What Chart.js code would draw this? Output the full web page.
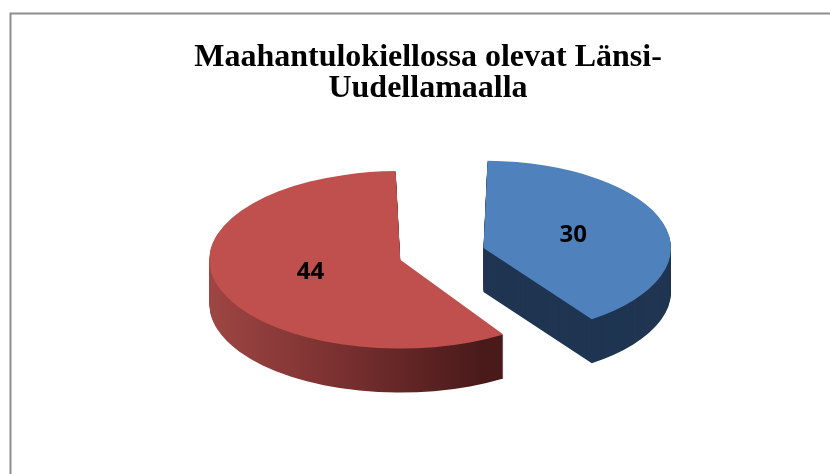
<!DOCTYPE html>
<html>
<head>
<meta charset="utf-8">
<script src="https://cdn.jsdelivr.net/npm/chart.js@4.4.1/dist/chart.umd.min.js"></script>
<style>
  html, body { margin: 0; padding: 0; background: #fff; }
  #wrap { width: 830px; height: 474px; }
</style>
</head>
<body>
<div id="wrap"><canvas id="pieChart" width="830" height="474"></canvas></div>
<script>
// data
const titleLines = ['Maahantulokiellossa olevat Länsi-', 'Uudellamaalla'];
const categories = ['A', 'B'];
const values = [30, 44];

// look
const topColors = ['#4F81BD', '#C0504D'];
const explodeBy = [232, 116];   // chart.js moves a slice by offset/4
const TILT = 0.465;             // vertical squash of the pie disc
const DEPTH = 44;               // thickness in px
const LABEL_POS = 0.58;

function tilt(ctx, arc) {
    ctx.translate(arc.x, arc.y);
    ctx.scale(1, TILT);
    ctx.translate(-arc.x, -arc.y);
}

function sideFill(ctx, arc, i) {
    if (i === 0) return '#1F3552';
    const g = ctx.createLinearGradient(arc.x - 215, 0, arc.x + 80, 0);
    g.addColorStop(0, '#A44A47');
    g.addColorStop(0.5, '#7C3131');
    g.addColorStop(1, '#4A1A1A');
    return g;
}

const frame = {
    id: 'frame',
    beforeDraw(chart) {
        const ctx = chart.ctx;
        ctx.save();
        ctx.strokeStyle = '#8E8E8E';
        ctx.lineWidth = 2;
        ctx.beginPath();
        ctx.moveTo(10.5, 474);
        ctx.lineTo(10.5, 13.5);
        ctx.lineTo(830, 13.5);
        ctx.stroke();
        ctx.restore();
    }
};

// fake 3D: squash the disc and stack shifted copies underneath for the side wall
const pie3d = {
    id: 'pie3d',
    beforeDatasetsDraw(chart) {
        const ctx = chart.ctx;
        const arcs = chart.getDatasetMeta(0).data;
        ctx.save();
        tilt(ctx, arcs[0]);
        arcs.forEach((arc, i) => {
            const fake = Object.create(arc);
            fake.options = Object.assign({}, arc.options, { backgroundColor: sideFill(ctx, arc, i), borderWidth: 0 });
            for (let d = DEPTH; d > 0; d--) {
                ctx.save();
                ctx.translate(0, d / TILT);
                fake.draw(ctx);
                ctx.restore();
            }
        });
    },
    afterDatasetsDraw(chart) {
        const ctx = chart.ctx;
        ctx.restore();
        const arcs = chart.getDatasetMeta(0).data;
        ctx.save();
        ctx.fillStyle = '#000';
        ctx.font = 'bold 24px "Open Sans"';
        ctx.textAlign = 'center';
        ctx.textBaseline = 'middle';
        arcs.forEach((arc, i) => {
            const mid = (arc.startAngle + arc.endAngle) / 2;
            const r = explodeBy[i] / 4 + arc.outerRadius * LABEL_POS;
            const x = arc.x + Math.cos(mid) * r;
            const y = arc.y + Math.sin(mid) * r * TILT;
            ctx.fillText(String(values[i]), x, y);
        });
        ctx.restore();
    }
};

new Chart(document.getElementById('pieChart'), {
    type: 'pie',
    data: {
        labels: categories,
        datasets: [{
            data: values,
            backgroundColor: topColors,
            borderWidth: 0,
            offset: explodeBy,
            radius: 162,
            clip: false
        }]
    },
    options: {
        responsive: false,
        animation: false,
        events: [],
        layout: { padding: { left: 26, right: 0, top: 20, bottom: 72 } },
        plugins: {
            legend: { display: false },
            tooltip: { enabled: false },
            title: {
                display: true,
                text: titleLines,
                color: '#000',
                font: { family: '"Liberation Serif"', size: 32, weight: 'bold', lineHeight: 0.98 },
                padding: { top: 22, bottom: 5 }
            }
        }
    },
    plugins: [frame, pie3d]
});
</script>
</body>
</html>
